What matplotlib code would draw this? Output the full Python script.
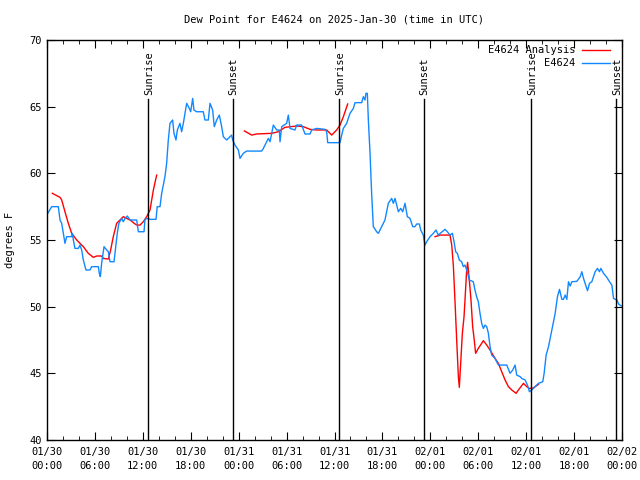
import matplotlib
matplotlib.use("Agg")
import matplotlib.pyplot as plt
import numpy as np
from matplotlib.lines import Line2D

plt.rcParams['font.family'] = ['DejaVu Sans Mono']

title = "Dew Point for E4624 on 2025-Jan-30 (time in UTC)"
ylabel = "degrees F"

# hours since 2025-01-30 00:00 UTC
obs_hours = [0, 0.58, 1.42, 1.63, 1.84, 2.25, 2.46, 3.09, 3.17, 3.3, 3.5, 3.92, 4.13, 4.34, 4.55,
             4.88, 5.38, 5.59, 6.43, 6.55, 6.68, 6.84, 7.14, 7.47, 7.68, 7.89, 8.39, 8.51, 8.8,
             9.0, 9.35, 9.56, 9.77, 10.06, 10.4, 11.23, 11.44, 12.15, 12.27, 12.56, 12.9, 13.65,
             13.8, 14.15, 14.36, 14.77, 14.98, 15.19, 15.4, 15.73, 15.9, 16.15, 16.32, 16.65,
             16.86, 17.07, 17.28, 17.49, 17.82, 17.99, 18.24, 18.4, 18.74, 19.57, 19.78, 20.2,
             20.41, 20.74, 20.95, 21.25, 21.58, 21.87, 22.08, 22.5, 22.7, 23.12, 23.25, 23.54,
             23.96, 24.17, 24.58, 25.0, 26.88, 27.09, 27.51, 27.72, 27.93, 28.13, 28.34, 28.76,
             29.09, 29.18, 29.39, 30.01, 30.22, 30.43, 31.05, 31.26, 31.89, 32.31, 32.93, 33.14,
             33.77, 34.81, 35.02, 35.15, 36.69, 36.9, 37.11, 37.52, 37.94, 38.36, 38.57, 39.4,
             39.61, 39.82, 39.94, 40.11, 40.24, 40.45, 40.65, 40.86, 41.28, 41.49, 41.91, 42.32,
             42.74, 43.16, 43.37, 43.58, 44.0, 44.29, 44.54, 44.83, 45.12, 45.46, 45.79, 46.08,
             46.29, 46.63, 46.79, 47.12, 47.33, 47.54, 47.96, 48.38, 48.71, 49.0, 49.34, 49.84,
             50.13, 50.46, 50.76, 50.97, 51.17, 51.38, 51.63, 51.92, 52.13, 52.34, 52.63, 52.88,
             53.38, 53.59, 53.8, 54.01, 54.22, 54.43, 54.64, 54.85, 55.06, 55.27, 55.48, 55.68,
             56.1, 56.52, 57.57, 57.98, 58.32, 58.61, 58.82, 59.24, 59.45, 59.87, 60.16, 60.41,
             60.7, 61.12, 61.54, 62.08, 62.25, 62.5, 62.8, 63.21, 63.63, 63.92, 64.17, 64.47,
             64.67, 64.88, 65.09, 65.3, 65.51, 65.72, 66.35, 66.77, 66.97, 67.18, 67.52, 67.68,
             67.93, 68.22, 68.43, 68.64, 68.93, 69.18, 69.35, 69.69, 70.1, 70.44, 70.73, 70.94,
             71.15, 71.36, 71.57, 71.9]
obs_dewpt = [56.9, 57.5, 57.5, 56.5, 56.25, 54.75, 55.25, 55.25, 55.5, 55.0, 54.37, 54.37, 54.62,
             54.25, 53.5, 52.75, 52.75, 53.0, 53.0, 52.5, 52.25, 53.25, 54.5, 54.25, 54.12, 53.37,
             53.37, 54.0, 55.5, 56.25, 56.62, 56.37, 56.62, 56.8, 56.5, 56.5, 55.62, 55.62, 56.55,
             56.62, 56.55, 56.55, 57.5, 57.5, 58.5, 59.75, 60.75, 62.5, 63.75, 64.0, 63.0, 62.5,
             63.25, 63.75, 63.12, 63.75, 64.5, 65.25, 64.87, 64.62, 65.62, 64.75, 64.62, 64.62,
             64.0, 64.0, 65.25, 64.75, 63.5, 64.0, 64.37, 63.5, 62.75, 62.5, 62.62, 62.87, 62.5,
             62.12, 61.75, 61.12, 61.5, 61.67, 61.67, 61.87, 62.37, 62.62, 62.37, 63.0, 63.62,
             63.25, 63.25, 62.37, 63.5, 63.75, 64.37, 63.37, 63.25, 63.62, 63.62, 62.95, 62.95,
             63.25, 63.37, 63.3, 63.12, 62.3, 62.3, 62.87, 63.37, 63.75, 64.5, 64.87, 65.3, 65.3,
             65.75, 65.5, 66.0, 66.0, 64.0, 61.5, 58.5, 56.0, 55.62, 55.5, 56.0, 56.5, 57.75,
             58.12, 57.75, 58.12, 57.12, 57.37, 57.12, 57.75, 56.75, 56.62, 56.0, 56.0, 56.2,
             56.2, 55.75, 55.37, 54.62, 54.87, 55.25, 55.5, 55.75, 55.37, 55.55, 55.8, 55.62,
             55.37, 55.5, 54.87, 54.12, 54.0, 53.5, 53.37, 53.0, 53.12, 52.62, 52.0, 51.87, 51.25,
             50.75, 50.37, 49.5, 48.75, 48.37, 48.62, 48.5, 48.0, 47.0, 46.37, 46.12, 45.62,
             45.62, 45.0, 45.25, 45.62, 44.87, 44.75, 44.62, 44.5, 44.12, 43.62, 43.75, 44.0,
             44.25, 44.37, 45.0, 46.37, 47.0, 48.25, 49.5, 50.75, 51.3, 50.55, 50.55, 50.87,
             50.55, 51.87, 51.55, 51.87, 51.9, 52.25, 52.62, 52.12, 51.5, 51.2, 51.75, 51.87,
             52.25, 52.62, 52.87, 52.62, 52.87, 52.5, 52.2, 51.87, 51.62, 50.62, 50.55, 50.5,
             50.2, 50.05]

ana_hours = [0.67, 1.63, 1.84, 2.25, 2.67, 3.09, 3.72, 4.13, 4.55, 5.17, 5.8, 6.22, 6.84, 7.05,
             7.68, 7.97, 8.3, 8.72, 9.14, 9.56, 9.98, 10.4, 10.81, 11.23, 11.65, 12.06, 12.48,
             12.9, 13.32, 13.73, np.nan,
             24.71, 25.63, 26.25, 28.13, 28.97, 29.8, 31.26, 32.1, 32.93, 33.77, 35.02, 35.65,
             36.27, 36.69, 37.11, 37.65, np.nan,
             48.59, 49.21, 50.46, 50.68, 50.89, 51.1, 51.3, 51.51, 51.63, 51.8, 52.01, 52.22,
             52.34, 52.55, 52.67, 52.88, 53.09, 53.3, 53.5, 53.67, 54.01, 54.43, 54.64, 55.06,
             55.48, 56.1, 56.52, 56.94, 57.36, 57.78, 58.2, 58.74, 59.03, 59.66, 60.08, 60.41,
             60.91, 61.12, 61.54]
ana_dewpt = [58.5, 58.2, 58.0, 57.12, 56.25, 55.5, 55.0, 54.75, 54.5, 54.0, 53.7, 53.8, 53.8,
             53.62, 53.57, 54.25, 55.25, 56.25, 56.5, 56.75, 56.62, 56.5, 56.3, 56.12, 56.12,
             56.37, 56.75, 57.25, 58.75, 59.87, np.nan,
             63.18, 62.87, 62.95, 63.0, 63.12, 63.45, 63.55, 63.5, 63.3, 63.25, 63.25, 62.87,
             63.25, 63.62, 64.25, 65.2, np.nan,
             55.25, 55.37, 55.37, 54.62, 53.0, 50.25, 47.5, 44.75, 43.95, 45.75, 48.0, 49.25,
             50.5, 52.75, 53.32, 52.0, 50.5, 48.5, 47.5, 46.5, 46.87, 47.25, 47.45, 47.12,
             46.75, 46.12, 45.75, 45.12, 44.5, 44.0, 43.75, 43.5, 43.75, 44.25, 44.0, 43.87,
             43.9, 44.0, 44.17]

sun_events = ["Sunrise", "Sunset", "Sunrise", "Sunset", "Sunrise", "Sunset"]
sun_hours = [12.65, 23.25, 36.6, 47.2, 60.65, 71.3]

xtick_hours = [0, 6, 12, 18, 24, 30, 36, 42, 48, 54, 60, 66, 72]
xtick_labels = ["01/30\n00:00", "01/30\n06:00", "01/30\n12:00", "01/30\n18:00",
                "01/31\n00:00", "01/31\n06:00", "01/31\n12:00", "01/31\n18:00",
                "02/01\n00:00", "02/01\n06:00", "02/01\n12:00", "02/01\n18:00",
                "02/02\n00:00"]
yticks = [40, 45, 50, 55, 60, 65, 70]

red = "#ff0000"
blue = "#1188ff"
fs = 7.5

fig = plt.figure(figsize=(6.4, 4.8), dpi=100)
ax = fig.add_axes([47/640, 1-440/480, (622-47)/640, 400/480])

ax.plot(ana_hours, ana_dewpt, color=red, lw=1.0)
ax.plot(obs_hours, obs_dewpt, color=blue, lw=1.0)

for name, h in zip(sun_events, sun_hours):
    ax.plot([h, h], [40, 65.6], color='black', lw=1.0)
    ax.text(h + 0.1, 65.9, name, rotation=90, ha='center', va='bottom', fontsize=fs)

ax.set_xlim(0, 72)
ax.set_ylim(40, 70)
ax.set_xticks(xtick_hours)
ax.set_xticklabels(xtick_labels, fontsize=fs, linespacing=1.5)
ax.set_xticks(np.arange(0, 73, 2), minor=True)
ax.set_yticks(yticks)
ax.set_yticklabels([str(v) for v in yticks], fontsize=fs)
ax.tick_params(axis='x', which='major', direction='in', length=6, top=True, pad=5)
ax.tick_params(axis='x', which='minor', direction='in', length=3, top=True)
ax.tick_params(axis='y', which='major', direction='in', length=6, right=True, pad=4)
for s in ax.spines.values():
    s.set_linewidth(1.0)

fig.text(0.5 * (47 + 622) / 640, 1-19/480, title, ha='center', va='center', fontsize=fs)
fig.text(10/640, 1-240/480, ylabel, rotation=90, ha='center', va='center', fontsize=fs)

# legend drawn manually (gnuplot-style, key text right-aligned)
leg = [("E4624 Analysis", red, 50), ("E4624", blue, 63)]
for lab, col, ypx in leg:
    fig.text(575/640, 1-ypx/480, lab, ha='right', va='center', fontsize=fs)
    fig.add_artist(Line2D([582/640, 610/640], [1-ypx/480, 1-ypx/480], color=col, lw=1.0))

fig.savefig("out.png", dpi=100)
